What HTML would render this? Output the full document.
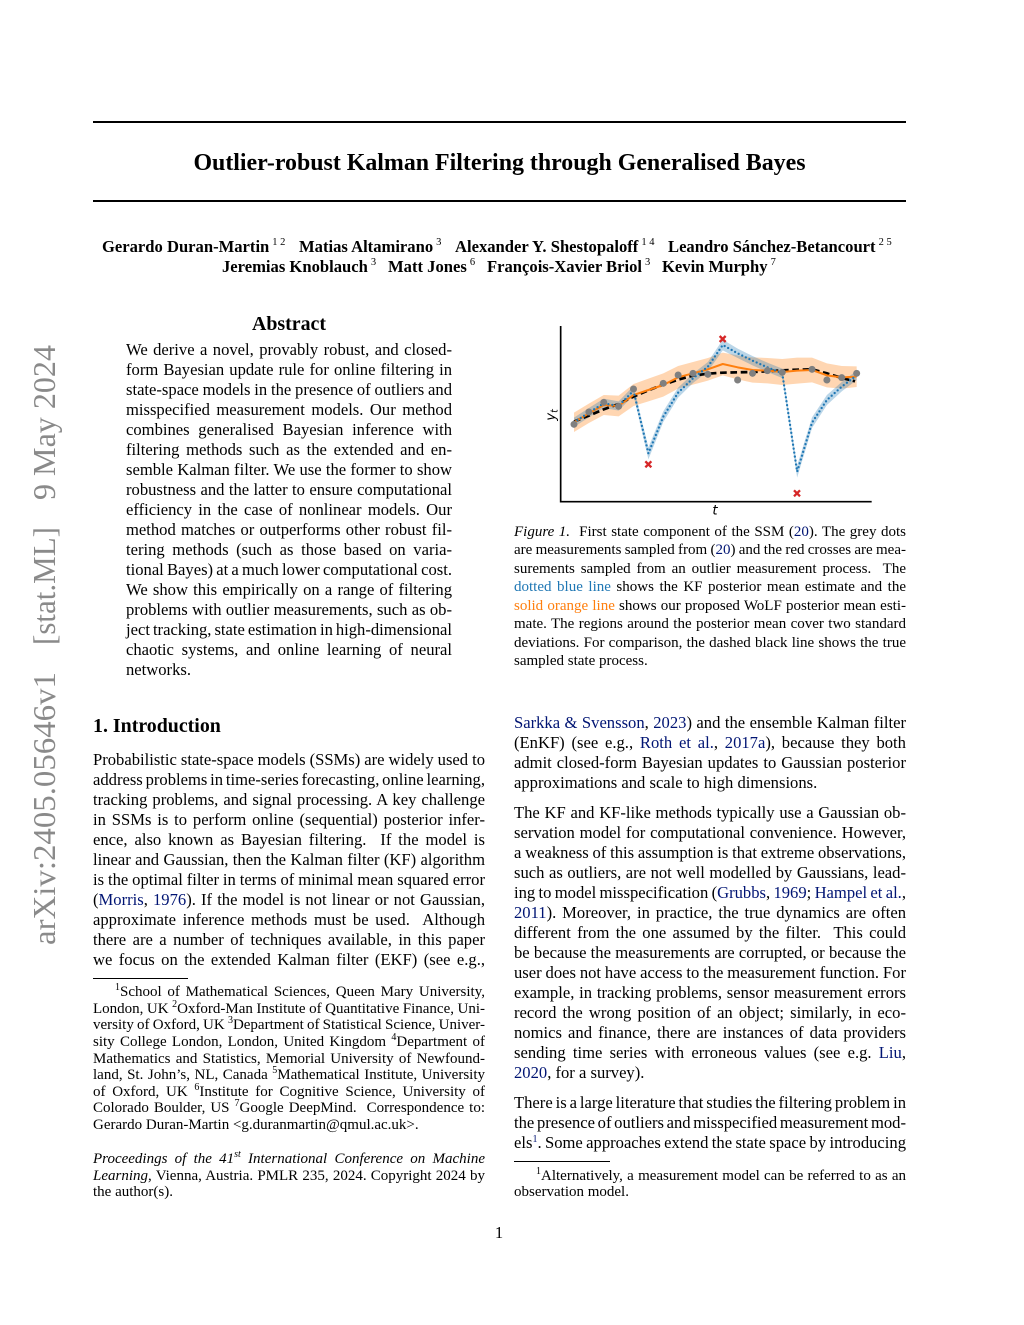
<!DOCTYPE html>
<html><head><meta charset="utf-8">
<style>
*{margin:0;padding:0}
html,body{width:1024px;height:1325px;background:#fff;overflow:hidden}
body{position:relative;font-family:"Liberation Serif","Times New Roman",serif;color:#000}
.p{position:absolute;font-size:16.6px;line-height:20px;word-spacing:-1.7px}
.p div{white-space:nowrap;text-align:justify;text-align-last:justify;height:20px}
.p div.e{text-align-last:left;word-spacing:0}
.p.c{font-size:15px;line-height:18.5px}
.p.c div{height:18.5px}
.p.f{font-size:15px;line-height:16.6px}
.p.f div{height:16.6px}
.lk{color:#001473}
sup{font-size:10px;line-height:0;vertical-align:6px}
.rule{position:absolute;background:#000}
.h{position:absolute;font-weight:bold;font-size:19.9px;line-height:24px;white-space:nowrap}
.au{position:absolute;font-weight:bold;font-size:16.6px;line-height:20px;white-space:nowrap}
.au sup{font-weight:normal;font-size:10.5px;vertical-align:7px;margin-left:3px}
</style></head><body>

<!-- arXiv sidebar -->
<svg style="position:absolute;left:0;top:0" width="90" height="1325">
<g font-family="Liberation Serif, Times New Roman, serif" font-size="31.5" fill="#8a8a8a">
<text transform="translate(55,945) rotate(-90)" textLength="273" lengthAdjust="spacingAndGlyphs">arXiv:2405.05646v1</text>
<text transform="translate(55,645) rotate(-90)" textLength="118" lengthAdjust="spacingAndGlyphs">[stat.ML]</text>
<text transform="translate(55,500) rotate(-90)" textLength="155" lengthAdjust="spacingAndGlyphs">9 May 2024</text>
</g>
</svg>

<!-- title block -->
<div class="rule" style="left:93px;top:120.5px;width:813px;height:2px"></div>
<div style="position:absolute;left:93px;top:148px;width:813px;text-align:center;font-weight:bold;font-size:23.9px;line-height:30px;white-space:nowrap">Outlier-robust Kalman Filtering through Generalised Bayes</div>
<div class="rule" style="left:93px;top:199.7px;width:813px;height:2px"></div>

<div class="au" style="left:102px;top:236.5px">Gerardo Duran-Martin<sup>1 2</sup></div>
<div class="au" style="left:299px;top:236.5px">Matias Altamirano<sup>3</sup></div>
<div class="au" style="left:455px;top:236.5px">Alexander Y. Shestopaloff<sup>1 4</sup></div>
<div class="au" style="left:668px;top:236.5px">Leandro Sánchez-Betancourt<sup>2 5</sup></div>
<div class="au" style="left:222px;top:256.5px">Jeremias Knoblauch<sup>3</sup></div>
<div class="au" style="left:388px;top:256.5px">Matt Jones<sup>6</sup></div>
<div class="au" style="left:487px;top:256.5px">François-Xavier Briol<sup>3</sup></div>
<div class="au" style="left:662px;top:256.5px">Kevin Murphy<sup>7</sup></div>

<!-- Abstract -->
<div class="h" style="left:126px;top:312px;width:326px;text-align:center">Abstract</div>
<div class="p" style="left:126px;top:340.2px;width:326px">
<div>We derive a novel, provably robust, and closed-</div>
<div>form Bayesian update rule for online filtering in</div>
<div>state-space models in the presence of outliers and</div>
<div>misspecified measurement models. Our method</div>
<div>combines generalised Bayesian inference with</div>
<div>filtering methods such as the extended and en-</div>
<div>semble Kalman filter. We use the former to show</div>
<div>robustness and the latter to ensure computational</div>
<div>efficiency in the case of nonlinear models. Our</div>
<div>method matches or outperforms other robust fil-</div>
<div>tering methods (such as those based on varia-</div>
<div>tional Bayes) at a much lower computational cost.</div>
<div>We show this empirically on a range of filtering</div>
<div>problems with outlier measurements, such as ob-</div>
<div>ject tracking, state estimation in high-dimensional</div>
<div>chaotic systems, and online learning of neural</div>
<div class="e">networks.</div>
</div>

<!-- Introduction -->
<div class="h" style="left:93px;top:714px">1. Introduction</div>
<div class="p" style="left:93px;top:749.8px;width:392px">
<div>Probabilistic state-space models (SSMs) are widely used to</div>
<div>address problems in time-series forecasting, online learning,</div>
<div>tracking problems, and signal processing. A key challenge</div>
<div>in SSMs is to perform online (sequential) posterior infer-</div>
<div>ence, also known as Bayesian filtering.&nbsp; If the model is</div>
<div>linear and Gaussian, then the Kalman filter (KF) algorithm</div>
<div>is the optimal filter in terms of minimal mean squared error</div>
<div>(<span class="lk">Morris</span>, <span class="lk">1976</span>). If the model is not linear or not Gaussian,</div>
<div>approximate inference methods must be used.&nbsp; Although</div>
<div>there are a number of techniques available, in this paper</div>
<div>we focus on the extended Kalman filter (EKF) (see e.g.,</div>
</div>

<div class="rule" style="left:93px;top:977.5px;width:95px;height:1px"></div>
<div class="p f" style="left:93px;top:984.3px;width:392px">
<div style="padding-left:22px"><sup>1</sup>School of Mathematical Sciences, Queen Mary University,</div>
<div>London, UK <sup>2</sup>Oxford-Man Institute of Quantitative Finance, Uni-</div>
<div>versity of Oxford, UK <sup>3</sup>Department of Statistical Science, Univer-</div>
<div>sity College London, London, United Kingdom <sup>4</sup>Department of</div>
<div>Mathematics and Statistics, Memorial University of Newfound-</div>
<div>land, St. John’s, NL, Canada <sup>5</sup>Mathematical Institute, University</div>
<div>of Oxford, UK <sup>6</sup>Institute for Cognitive Science, University of</div>
<div>Colorado Boulder, US <sup>7</sup>Google DeepMind.&nbsp; Correspondence to:</div>
<div class="e">Gerardo Duran-Martin &lt;g.duranmartin@qmul.ac.uk&gt;.</div>
</div>

<div class="p f" style="left:93px;top:1151px;width:392px">
<div><i>Proceedings of the 41<sup>st</sup> International Conference on Machine</i></div>
<div><i>Learning</i>, Vienna, Austria. PMLR 235, 2024. Copyright 2024 by</div>
<div class="e">the author(s).</div>
</div>

<!-- Figure -->
<svg style="position:absolute;left:540px;top:320px" width="340" height="200" viewBox="0 0 1020 600">
<path d="M102,278 L146.6,251 L191.3,225 L235.9,227 L280.5,192 L325.2,176 L369.8,160 L414.4,138 L459,126 L503.7,114 L548.3,98 L592.9,106 L637.6,112 L682.2,114 L726.8,117 L771.4,113 L816.1,113 L860.7,130 L905.3,138 L950,139 L950,201 L905.3,206 L860.7,202 L816.1,187 L771.4,191 L726.8,195 L682.2,190 L637.6,188 L592.9,178 L548.3,166 L503.7,182 L459,194 L414.4,206 L369.8,230 L325.2,244 L280.5,258 L235.9,289 L191.3,285 L146.6,309 L102,336 Z" fill="#ff7f0e" fill-opacity="0.32"/>
<path d="M102,293 L146.6,264 L191.3,236 L235.9,244 L280.5,198 L325.2,382 L369.8,274 L414.4,203 L459,161 L503.7,126 L548.3,59 L592.9,86 L637.6,108 L682.2,128 L726.8,146 L771.4,437 L816.1,292 L860.7,225 L905.3,186 L950,152 L950,180 L905.3,214 L860.7,255 L816.1,324 L771.4,473 L726.8,174 L682.2,156 L637.6,136 L592.9,114 L548.3,91 L503.7,154 L459,189 L414.4,233 L369.8,306 L325.2,418 L280.5,226 L235.9,272 L191.3,264 L146.6,292 L102,321 Z" fill="#1f77b4" fill-opacity="0.3"/>
<path d="M102,305 L146.6,287 L191.3,268 L235.9,252 L280.5,230 L325.2,211 L369.8,194 L414.4,179 L459,167 L503.7,161 L548.3,158 L592.9,157 L637.6,156 L682.2,154 L726.8,151 L771.4,149 L816.1,148 L860.7,160 L905.3,174 L945,184" fill="none" stroke="#000" stroke-width="8" stroke-dasharray="20 11"/>
<path d="M102,307 L146.6,280 L191.3,255 L235.9,258 L280.5,225 L325.2,210 L369.8,195 L414.4,172 L459,160 L503.7,148 L548.3,132 L592.9,142 L637.6,150 L682.2,152 L726.8,156 L771.4,152 L816.1,150 L860.7,166 L905.3,172 L950,170" fill="none" stroke="#ff7f0e" stroke-width="6" stroke-linejoin="round"/>
<path d="M102,307 L146.6,278 L191.3,250 L235.9,258 L280.5,212 L325.2,400 L369.8,290 L414.4,218 L459,175 L503.7,140 L548.3,75 L592.9,100 L637.6,122 L682.2,142 L726.8,160 L771.4,455 L816.1,308 L860.7,240 L905.3,200 L950,166" fill="none" stroke="#1f77b4" stroke-width="7" stroke-dasharray="0 12" stroke-linecap="round"/>
<g fill="#808080">
<circle cx="102" cy="313" r="10.5"/><circle cx="146.6" cy="276" r="10.5"/><circle cx="191.3" cy="247" r="10.5"/><circle cx="235.9" cy="259" r="10.5"/><circle cx="280.5" cy="207" r="10.5"/><circle cx="369.8" cy="190" r="10.5"/><circle cx="414.4" cy="165" r="10.5"/><circle cx="459" cy="160" r="10.5"/><circle cx="503.7" cy="163" r="10.5"/><circle cx="592.9" cy="180" r="10.5"/><circle cx="637.6" cy="160" r="10.5"/><circle cx="682.2" cy="152" r="10.5"/><circle cx="726.8" cy="157" r="10.5"/><circle cx="816.1" cy="148" r="10.5"/><circle cx="860.7" cy="180" r="10.5"/><circle cx="905.3" cy="173" r="10.5"/><circle cx="950" cy="160" r="10.5"/>
</g>
<g stroke="#d62728" stroke-width="7">
<path d="M316,424 L334,442 M334,424 L316,442"/>
<path d="M539,48 L557,66 M557,48 L539,66"/>
<path d="M762,511 L780,529 M780,511 L762,529"/>
</g>
<path d="M62,18 L62,545 L995,545" fill="none" stroke="#000" stroke-width="5"/>
<text x="525" y="584" font-family="DejaVu Sans, sans-serif" font-style="italic" font-size="40" text-anchor="middle">t</text>
<text transform="translate(45,285) rotate(-90)" font-family="DejaVu Sans, sans-serif" font-style="italic" font-size="40" text-anchor="middle">y<tspan font-size="28" dy="8">t</tspan></text>
</svg>

<!-- Caption -->
<div class="p c" style="left:514px;top:522.5px;width:392px">
<div><i>Figure 1.</i>&nbsp; First state component of the SSM (<span class="lk">20</span>). The grey dots</div>
<div>are measurements sampled from (<span class="lk">20</span>) and the red crosses are mea-</div>
<div>surements sampled from an outlier measurement process.&nbsp; The</div>
<div><span style="color:#1f77b4">dotted blue line</span> shows the KF posterior mean estimate and the</div>
<div><span style="color:#ff7f0e">solid orange line</span> shows our proposed WoLF posterior mean esti-</div>
<div>mate. The regions around the posterior mean cover two standard</div>
<div>deviations. For comparison, the dashed black line shows the true</div>
<div class="e">sampled state process.</div>
</div>

<!-- Right column -->
<div class="p" style="left:514px;top:713px;width:392px">
<div><span class="lk">Sarkka &amp; Svensson</span>, <span class="lk">2023</span>) and the ensemble Kalman filter</div>
<div>(EnKF) (see e.g., <span class="lk">Roth et al.</span>, <span class="lk">2017a</span>), because they both</div>
<div>admit closed-form Bayesian updates to Gaussian posterior</div>
<div class="e">approximations and scale to high dimensions.</div>
</div>

<div class="p" style="left:514px;top:803.4px;width:392px">
<div>The KF and KF-like methods typically use a Gaussian ob-</div>
<div>servation model for computational convenience. However,</div>
<div>a weakness of this assumption is that extreme observations,</div>
<div>such as outliers, are not well modelled by Gaussians, lead-</div>
<div>ing to model misspecification (<span class="lk">Grubbs</span>, <span class="lk">1969</span>; <span class="lk">Hampel et al.</span>,</div>
<div><span class="lk">2011</span>). Moreover, in practice, the true dynamics are often</div>
<div>different from the one assumed by the filter.&nbsp; This could</div>
<div>be because the measurements are corrupted, or because the</div>
<div>user does not have access to the measurement function. For</div>
<div>example, in tracking problems, sensor measurement errors</div>
<div>record the wrong position of an object; similarly, in eco-</div>
<div>nomics and finance, there are instances of data providers</div>
<div>sending time series with erroneous values (see e.g. <span class="lk">Liu</span>,</div>
<div class="e"><span class="lk">2020</span>, for a survey).</div>
</div>

<div class="p" style="left:514px;top:1093.4px;width:392px">
<div>There is a large literature that studies the filtering problem in</div>
<div>the presence of outliers and misspecified measurement mod-</div>
<div>els<sup class="lk">1</sup>. Some approaches extend the state space by introducing</div>
</div>

<div class="rule" style="left:514px;top:1160.5px;width:96px;height:1px"></div>
<div class="p f" style="left:514px;top:1167.5px;width:392px">
<div style="padding-left:22px"><sup>1</sup>Alternatively, a measurement model can be referred to as an</div>
<div class="e">observation model.</div>
</div>

<div style="position:absolute;left:489px;top:1223.4px;width:20px;text-align:center;font-size:16.6px;line-height:20px">1</div>

</body></html>
